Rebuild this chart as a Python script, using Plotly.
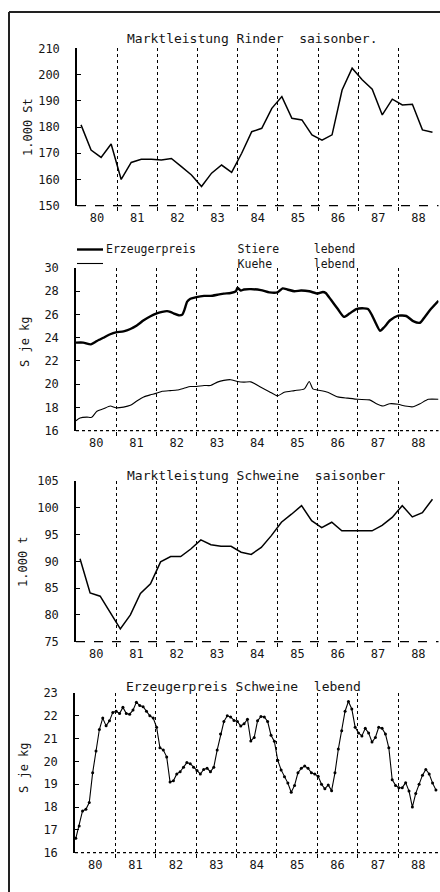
import plotly.graph_objects as go

# ---------------- data ----------------
years = [1980, 1981, 1982, 1983, 1984, 1985, 1986, 1987, 1988]
year_labels = ["80", "81", "82", "83", "84", "85", "86", "87", "88"]

# Panel 1: Marktleistung Rinder saisonber. (1.000 St), quarterly 1980-1988
rinder_markt = [180.8, 171.2, 168.4, 173.5, 160.0, 166.5, 167.7, 167.7, 167.4, 168.0,
                164.9, 161.7, 157.3, 162.4, 165.5, 162.7, 170.0, 178.2, 179.5, 187.1,
                191.6, 183.3, 182.7, 177.0, 175.0, 177.0, 194.1, 202.4, 198.0, 194.4,
                184.6, 190.6, 188.4, 188.7, 178.9, 178.0]

# Panel 2: Erzeugerpreis Stiere / Kuehe lebend (S je kg)
stiere_t = [1980.0, 1980.18, 1980.37, 1980.52, 1980.68, 1980.85, 1980.99, 1981.18, 1981.35,
            1981.51, 1981.68, 1981.85, 1981.99, 1982.14, 1982.26, 1982.34, 1982.43, 1982.55,
            1982.64, 1982.69, 1982.76, 1982.84, 1982.99, 1983.18, 1983.34, 1983.51, 1983.67,
            1983.84, 1983.97, 1984.01, 1984.09, 1984.17, 1984.34, 1984.59, 1984.8, 1985.0,
            1985.13, 1985.25, 1985.42, 1985.59, 1985.79, 1986.0, 1986.13, 1986.2, 1986.33,
            1986.5, 1986.65, 1986.79, 1986.96, 1987.15, 1987.25, 1987.35, 1987.45, 1987.55,
            1987.65, 1987.8, 1988.0, 1988.2, 1988.37, 1988.54, 1988.66, 1988.79, 1989.0]
stiere = [23.58, 23.58, 23.43, 23.72, 24.0, 24.3, 24.46, 24.55, 24.75,
          25.05, 25.5, 25.85, 26.08, 26.23, 26.29, 26.23, 26.08, 25.93,
          25.99, 26.38, 27.1, 27.35, 27.5, 27.6, 27.6, 27.7, 27.8,
          27.85, 28.0, 28.3, 28.06, 28.15, 28.18, 28.1, 27.9, 27.9,
          28.24, 28.15, 28.0, 28.06, 28.0, 27.8, 27.94, 27.85, 27.26,
          26.47, 25.8, 26.08, 26.47, 26.53, 26.47, 25.93, 25.2, 24.6,
          24.9, 25.5, 25.9, 25.87, 25.43, 25.29, 25.79, 26.38, 27.17]

kuehe_t = [1980.0, 1980.1, 1980.27, 1980.39, 1980.52, 1980.68, 1980.85, 1980.99, 1981.18,
           1981.35, 1981.51, 1981.68, 1981.85, 1981.99, 1982.14, 1982.34, 1982.51, 1982.68,
           1982.84, 1982.99, 1983.18, 1983.34, 1983.51, 1983.67, 1983.84, 1984.01, 1984.17,
           1984.34, 1984.59, 1984.8, 1985.0, 1985.17, 1985.42, 1985.67, 1985.79, 1985.88,
           1986.0, 1986.25, 1986.5, 1986.75, 1987.0, 1987.29, 1987.46, 1987.62, 1987.79,
           1988.0, 1988.17, 1988.37, 1988.54, 1988.75, 1989.0]
kuehe = [16.85, 17.09, 17.17, 17.15, 17.68, 17.88, 18.12, 17.97, 18.03,
         18.18, 18.56, 18.91, 19.09, 19.21, 19.39, 19.45, 19.5, 19.65,
         19.8, 19.8, 19.89, 19.89, 20.18, 20.33, 20.39, 20.24, 20.18,
         20.2, 19.74, 19.36, 19.0, 19.3, 19.45, 19.6, 20.24, 19.6,
         19.5, 19.3, 18.91, 18.8, 18.7, 18.65, 18.32, 18.12, 18.32,
         18.27, 18.12, 18.06, 18.32, 18.7, 18.7]

# Panel 3: Marktleistung Schweine saisonber (1.000 t), quarterly 1980-1988
schweine_markt = [90.5, 84.1, 83.5, 80.5, 77.4, 80.0, 84.0, 85.8, 89.9, 90.9,
                  90.9, 92.3, 94.0, 93.1, 92.8, 92.8, 91.7, 91.3, 92.6, 94.8,
                  97.3, 98.8, 100.4, 97.6, 96.3, 97.3, 95.7, 95.7, 95.7, 95.7,
                  96.7, 98.2, 100.4, 98.3, 99.1, 101.6]

# Panel 4: Erzeugerpreis Schweine lebend (S je kg), monthly 1980-1988
schweine_preis = [16.63, 17.17, 17.83, 17.9, 18.2, 19.5, 20.46, 21.4, 21.9, 21.56, 21.78, 22.15,
                  22.2, 22.1, 22.37, 22.1, 22.07, 22.25, 22.6, 22.45, 22.4, 22.2, 22.0, 21.9,
                  21.5, 20.6, 20.5, 20.2, 19.1, 19.15, 19.45, 19.55, 19.75, 19.95, 19.9, 19.75,
                  19.6, 19.45, 19.65, 19.7, 19.55, 19.75, 20.5, 21.2, 21.75, 22.0, 21.95, 21.8,
                  21.75, 21.55, 21.65, 21.85, 20.9, 21.05, 21.78, 21.97, 21.95, 21.75, 21.15, 20.88,
                  20.05, 19.63, 19.33, 19.05, 18.65, 18.95, 19.5, 19.7, 19.8, 19.7, 19.5, 19.45,
                  19.35, 19.0, 18.8, 18.97, 18.72, 19.5, 20.54, 21.35, 22.2, 22.63, 22.3, 21.5,
                  21.25, 21.12, 21.45, 21.25, 20.85, 21.05, 21.5, 21.45, 21.2, 20.6, 19.2, 18.95,
                  18.85, 18.85, 19.07, 18.7, 18.0, 18.6, 19.0, 19.4, 19.65, 19.45, 19.05, 18.75]

quarter_t = [1980.1 + 0.25 * i for i in range(len(rinder_markt))]
month_t = [1980.02 + i / 12 for i in range(len(schweine_preis))]

# ---------------- styling ----------------
FONT = "DejaVu Sans Mono"
INK = "#151515"
W, H = 440, 892
NB = "\u00a0"


def py(px):
    return 1 - px / H


def px_x(px):
    return px / W


fig = go.Figure()
fig.add_trace(go.Scatter(x=quarter_t, y=rinder_markt, mode="lines", name="Marktleistung Rinder",
                         line=dict(color="black", width=1.5), xaxis="x", yaxis="y"))
fig.add_trace(go.Scatter(x=stiere_t, y=stiere, mode="lines", name="Stiere lebend",
                         line=dict(color="black", width=2.4, shape="spline", smoothing=0.6),
                         xaxis="x2", yaxis="y2"))
fig.add_trace(go.Scatter(x=kuehe_t, y=kuehe, mode="lines", name="Kuehe lebend",
                         line=dict(color="black", width=1.1, shape="spline", smoothing=0.6),
                         xaxis="x2", yaxis="y2"))
fig.add_trace(go.Scatter(x=quarter_t, y=schweine_markt, mode="lines", name="Marktleistung Schweine",
                         line=dict(color="black", width=1.5), xaxis="x3", yaxis="y3"))
fig.add_trace(go.Scatter(x=month_t, y=schweine_preis, mode="lines+markers", name="Schweine lebend",
                         line=dict(color="black", width=1.1),
                         marker=dict(color="black", size=3, symbol="circle"),
                         xaxis="x4", yaxis="y4"))

panels = [
    # (x domain left px, y bottom px, y top px, yrange, dtick)
    (77, 205.7, 48.3, [150, 210], 10),
    (76, 430.7, 268.0, [16, 30], 2),
    (76, 641.7, 481.0, [75, 105], 5),
    (75, 852.7, 693.0, [16, 23], 1),
]

layout = dict(
    width=W, height=H, margin=dict(l=0, r=0, t=0, b=0, pad=0, autoexpand=False),
    paper_bgcolor="white", plot_bgcolor="white", showlegend=False,
    font=dict(family=FONT, size=12, color=INK),
)
shapes = []
for i, (xl, yb, yt, yr, dt) in enumerate(panels, start=1):
    sfx = "" if i == 1 else str(i)
    layout["xaxis" + sfx] = dict(
        domain=[px_x(xl), px_x(438.5)], range=[1980, 1989], anchor="y" + sfx,
        tickmode="array", tickvals=[y + 0.5 for y in years], ticktext=year_labels,
        ticks="", showgrid=False, zeroline=False, showline=False, automargin=False,
        tickfont=dict(family=FONT, size=12, color=INK), ticklabelstandoff=3,
        minor=dict(tickmode="array", tickvals=years[1:], showgrid=True, griddash="dot",
                   gridcolor="black", gridwidth=1, ticks="outside", ticklen=4,
                   tickcolor="black", tickwidth=1),
    )
    layout["yaxis" + sfx] = dict(
        domain=[py(yb), py(yt)], range=yr, anchor="x" + sfx, dtick=dt, tick0=yr[0],
        showgrid=False, zeroline=False, showline=True, linecolor="black", linewidth=1.5,
        ticks="inside", ticklen=4, tickcolor="black", tickwidth=1, automargin=False,
        tickfont=dict(family=FONT, size=12, color=INK), ticklabelstandoff=13,
    )
    # bottom axis line (dashed / dotted as in the scan)
    shapes.append(dict(type="line", xref="x" + sfx + " domain", yref="y" + sfx + " domain",
                       x0=0, x1=1, y0=0, y1=0,
                       line=dict(color="black", width=1.3,
                                 dash="dash" if i in (1, 3) else "dot")))

# outer frame of the scanned page
shapes.append(dict(type="line", xref="paper", yref="paper", x0=px_x(9), x1=px_x(9),
                   y0=py(12), y1=0, line=dict(color="#222", width=2)))
shapes.append(dict(type="line", xref="paper", yref="paper", x0=px_x(9), x1=1,
                   y0=py(12), y1=py(12), line=dict(color="#222", width=2)))
# legend keys panel 2
shapes.append(dict(type="line", xref="paper", yref="paper", x0=px_x(77), x1=px_x(103),
                   y0=py(249.5), y1=py(249.5), line=dict(color="black", width=2.4)))
shapes.append(dict(type="line", xref="paper", yref="paper", x0=px_x(77), x1=px_x(103),
                   y0=py(263.5), y1=py(263.5), line=dict(color="black", width=1.1)))
layout["shapes"] = shapes


def ann(text, x, y, xanchor="center", angle=0, size=13, yanchor="middle"):
    return dict(text=text, x=px_x(x), y=py(y), xref="paper", yref="paper",
                xanchor=xanchor, yanchor=yanchor, showarrow=False, textangle=angle,
                align="left", font=dict(family=FONT, size=size, color=INK))


legend_text = ("Erzeugerpreis" + NB * 6 + "Stiere" + NB * 5 + "lebend<br>"
               + NB * 19 + "Kuehe" + NB * 6 + "lebend")

layout["annotations"] = [
    ann("Marktleistung Rinder  saisonber.", 252, 39),
    ann(legend_text, 104, 256.5, "left", size=11.5),
    ann("Marktleistung Schweine  saisonber", 256, 475),
    ann("Erzeugerpreis Schweine  lebend", 243, 686),
    ann("1.000 St", 28, 127, angle=-90, size=12),
    ann("S je kg", 25, 342, angle=-90, size=12),
    ann("1.000 t", 23, 562, angle=-90, size=12),
    ann("S je kg", 24, 768, angle=-90, size=12),
]

fig.update_layout(**layout)
fig.write_html(
    "out.html",
    config={"displayModeBar": False},
    post_script=(
        "var de=document.documentElement,bd=document.body;"
        "de.style.margin='0px';de.style.padding='0px';de.style.height='892px';de.style.overflow='hidden';"
        "bd.style.margin='0px';bd.style.padding='0px';bd.style.height='892px';bd.style.overflow='hidden';"
        "var gd=document.getElementById('{plot_id}');"
        "gd.style.position='fixed';gd.style.top='0px';gd.style.left='0px';gd.style.margin='0px';"
    ),
)
